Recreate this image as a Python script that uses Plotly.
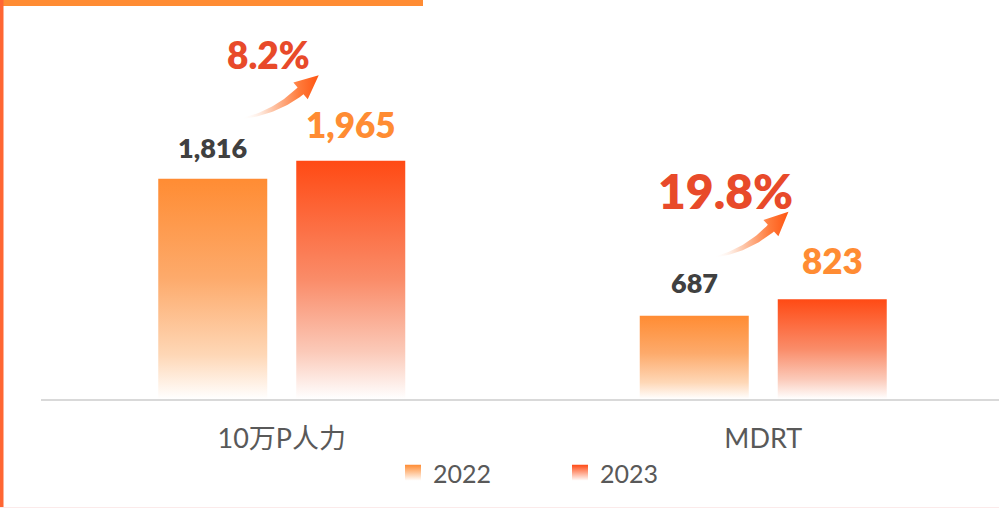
import numpy as np
import plotly.graph_objects as go

# ---------------- data ----------------
categories = ["10万P人力", "MDRT"]
series_names = ["2022", "2023"]
values_2022 = [1816, 687]
values_2023 = [1965, 823]

# ---------------- layout constants ----------------
W, H = 999, 508
ML, MR, MT, MB = 41, 0, 5, 109
PW = W - ML - MR
PH = H - MT - MB
PX_PER_CAT = 481.5
PX_PER_UNIT = 0.1213
X_RANGE = [-0.5, -0.5 + PW / PX_PER_CAT]
Y_RANGE = [0, PH / PX_PER_UNIT]
BAR_W = 109 / PX_PER_CAT
BAR_OFF = 69 / PX_PER_CAT

FONT = "Lato, 'Noto Sans CJK SC', sans-serif"
C_DARK = "#404040"
C_GRAY = "#595959"
C_ORANGE = "#FF8C33"
C_RED = "#E84A2A"

series = [
    dict(name=series_names[0], values=values_2022, offset=-BAR_OFF,
         scale=[[0, "#FFFFFF"], [0.2, "#FED7B6"], [0.55, "#FDAA6B"], [1, "#FF8C33"]],
         label_color=C_DARK, label_size=27, label_gap=[31, 33]),
    dict(name=series_names[1], values=values_2023, offset=BAR_OFF,
         scale=[[0, "#FFFFFF"], [0.2, "#FBC9B8"], [0.5, "#FA8C69"], [1, "#FF4A14"]],
         label_color=C_ORANGE, label_size=35, label_gap=[37, 39]),
]

fig = go.Figure()

def px_dx(d):
    return d / PX_PER_CAT

def px_dy(d):
    # d positive = downward on screen
    return -d / PX_PER_UNIT

# bars (gradient fills)
for s in series:
    for i, v in enumerate(s["values"]):
        xc = i + s["offset"]
        x0, x1 = xc - BAR_W / 2, xc + BAR_W / 2
        fig.add_trace(go.Scatter(
            x=[x0, x1, x1, x0, x0], y=[0, 0, v, v, 0],
            mode="lines", line=dict(width=0, color=s["scale"][-1][1]),
            fill="toself",
            fillgradient=dict(type="vertical", colorscale=s["scale"], start=0, stop=v),
            name=s["name"], legendgroup=s["name"], showlegend=False,
            hoverinfo="skip",
        ))
        fig.add_annotation(
            x=xc, y=v, text=f"{v:,}", showarrow=False,
            yanchor="middle", yshift=s["label_gap"][i],
            font=dict(family=FONT, size=s["label_size"], color=s["label_color"], weight=800),
        )
    # legend entry: gradient square marker
    fig.add_trace(go.Scatter(
        x=[None], y=[None], mode="markers", name=s["name"], legendgroup=s["name"],
        marker=dict(symbol="square", size=19, color=s["scale"][-1][1],
                    gradient=dict(type="vertical", color="#FFFFFF"), line=dict(width=0)),
        hoverinfo="skip",
    ))

# growth labels and arrows
pct_style = [dict(size=37, dx=-13.5, dy=-106), dict(size=48, dx=-38, dy=-109)]
arrow_px = [((-40, -42), (40.5, -80)), ((-49, -42), (29, -82))]


def arrow_polygon(T, P, L=24.0, hw=11.0, bow=9.0):
    T = np.array(T, float)
    P = np.array(P, float)
    d = P - T
    u0 = d / np.linalg.norm(d)
    B = P - L * u0
    mid = (T + B) / 2
    nrm = np.array([-(B - T)[1], (B - T)[0]])
    nrm /= np.linalg.norm(nrm)
    if nrm[1] < 0:
        nrm = -nrm
    C = mid + nrm * bow
    ts = np.linspace(0, 1, 30)
    upper, lower = [], []
    for t in ts:
        q = (1 - t) ** 2 * T + 2 * (1 - t) * t * C + t ** 2 * B
        dq = 2 * (1 - t) * (C - T) + 2 * t * (B - C)
        dq /= np.linalg.norm(dq)
        n = np.array([-dq[1], dq[0]])
        w = 0.5 + 4.0 * t
        upper.append(q + n * w)
        lower.append(q - n * w)
    ue = (B - C) / np.linalg.norm(B - C)
    ne = np.array([-ue[1], ue[0]])
    tip = B + L * ue
    pts = upper + [B + ne * hw, tip, B - ne * hw] + lower[::-1] + [upper[0]]
    return np.array(pts)


for i in range(len(categories)):
    v22, v23 = values_2022[i], values_2023[i]
    g = v23 / v22 - 1
    st = pct_style[i]
    fig.add_annotation(
        x=i + px_dx(st["dx"]), y=v23 + px_dy(st["dy"]),
        text=f"{g * 100:.1f}%", showarrow=False, yanchor="middle",
        font=dict(family=FONT, size=st["size"], color=C_RED, weight=800),
    )
    tail, tip = arrow_px[i]
    poly = arrow_polygon(tail, tip)
    xs = [i + px_dx(p[0]) for p in poly]
    ys = [v23 + px_dy(p[1]) for p in poly]
    fig.add_trace(go.Scatter(
        x=xs, y=ys, mode="lines", line=dict(width=0, color="#FF5512"),
        fill="toself",
        fillgradient=dict(type="horizontal",
                          colorscale=[[0, "rgba(255,255,255,0)"], [0.35, "#FDD0B8"],
                                      [0.75, "#FF7A3A"], [1, "#FF5512"]]),
        showlegend=False, hoverinfo="skip",
    ))

# decorative frame lines (pixel -> paper)
def ppx(x):
    return (x - ML) / PW

def ppy(y):
    return (H - MB - y) / PH

fig.add_shape(type="rect", xref="paper", yref="paper", x0=ppx(0), x1=ppx(423),
              y0=ppy(6), y1=ppy(0), fillcolor="#FF8C33", line=dict(width=0), layer="above")
fig.add_shape(type="rect", xref="paper", yref="paper", x0=ppx(0), x1=ppx(3.5),
              y0=ppy(H), y1=ppy(0), fillcolor="#FF6633", line=dict(width=0), layer="above")
fig.add_shape(type="line", xref="paper", yref="paper", x0=ppx(0), x1=ppx(W),
              y0=ppy(507.5), y1=ppy(507.5), line=dict(color="#FBEAEA", width=1))

fig.update_layout(
    width=W, height=H,
    margin=dict(l=ML, r=MR, t=MT, b=MB),
    paper_bgcolor="white", plot_bgcolor="white",
    font=dict(family=FONT, color=C_GRAY),
    xaxis=dict(range=X_RANGE, tickmode="array", tickvals=list(range(len(categories))),
               ticktext=categories, showgrid=False, zeroline=False,
               showline=True, linecolor="#D9D9D9", linewidth=1.5,
               ticks="", ticklabelstandoff=15,
               tickfont=dict(size=27, color=C_GRAY, family=FONT),
               fixedrange=True),
    yaxis=dict(range=Y_RANGE, visible=False, showgrid=False, zeroline=False, fixedrange=True),
    legend=dict(orientation="h", x=ppx(393), xanchor="left", y=ppy(473), yanchor="middle",
                font=dict(size=25, color=C_GRAY, family=FONT), bgcolor="rgba(0,0,0,0)",
                entrywidth=122, entrywidthmode="pixels", itemsizing="trace"),
    showlegend=True,
)

fig.write_html("out.html", config={"displayModeBar": False},
               post_script="document.body.style.margin='0';document.body.style.overflow='hidden';")
